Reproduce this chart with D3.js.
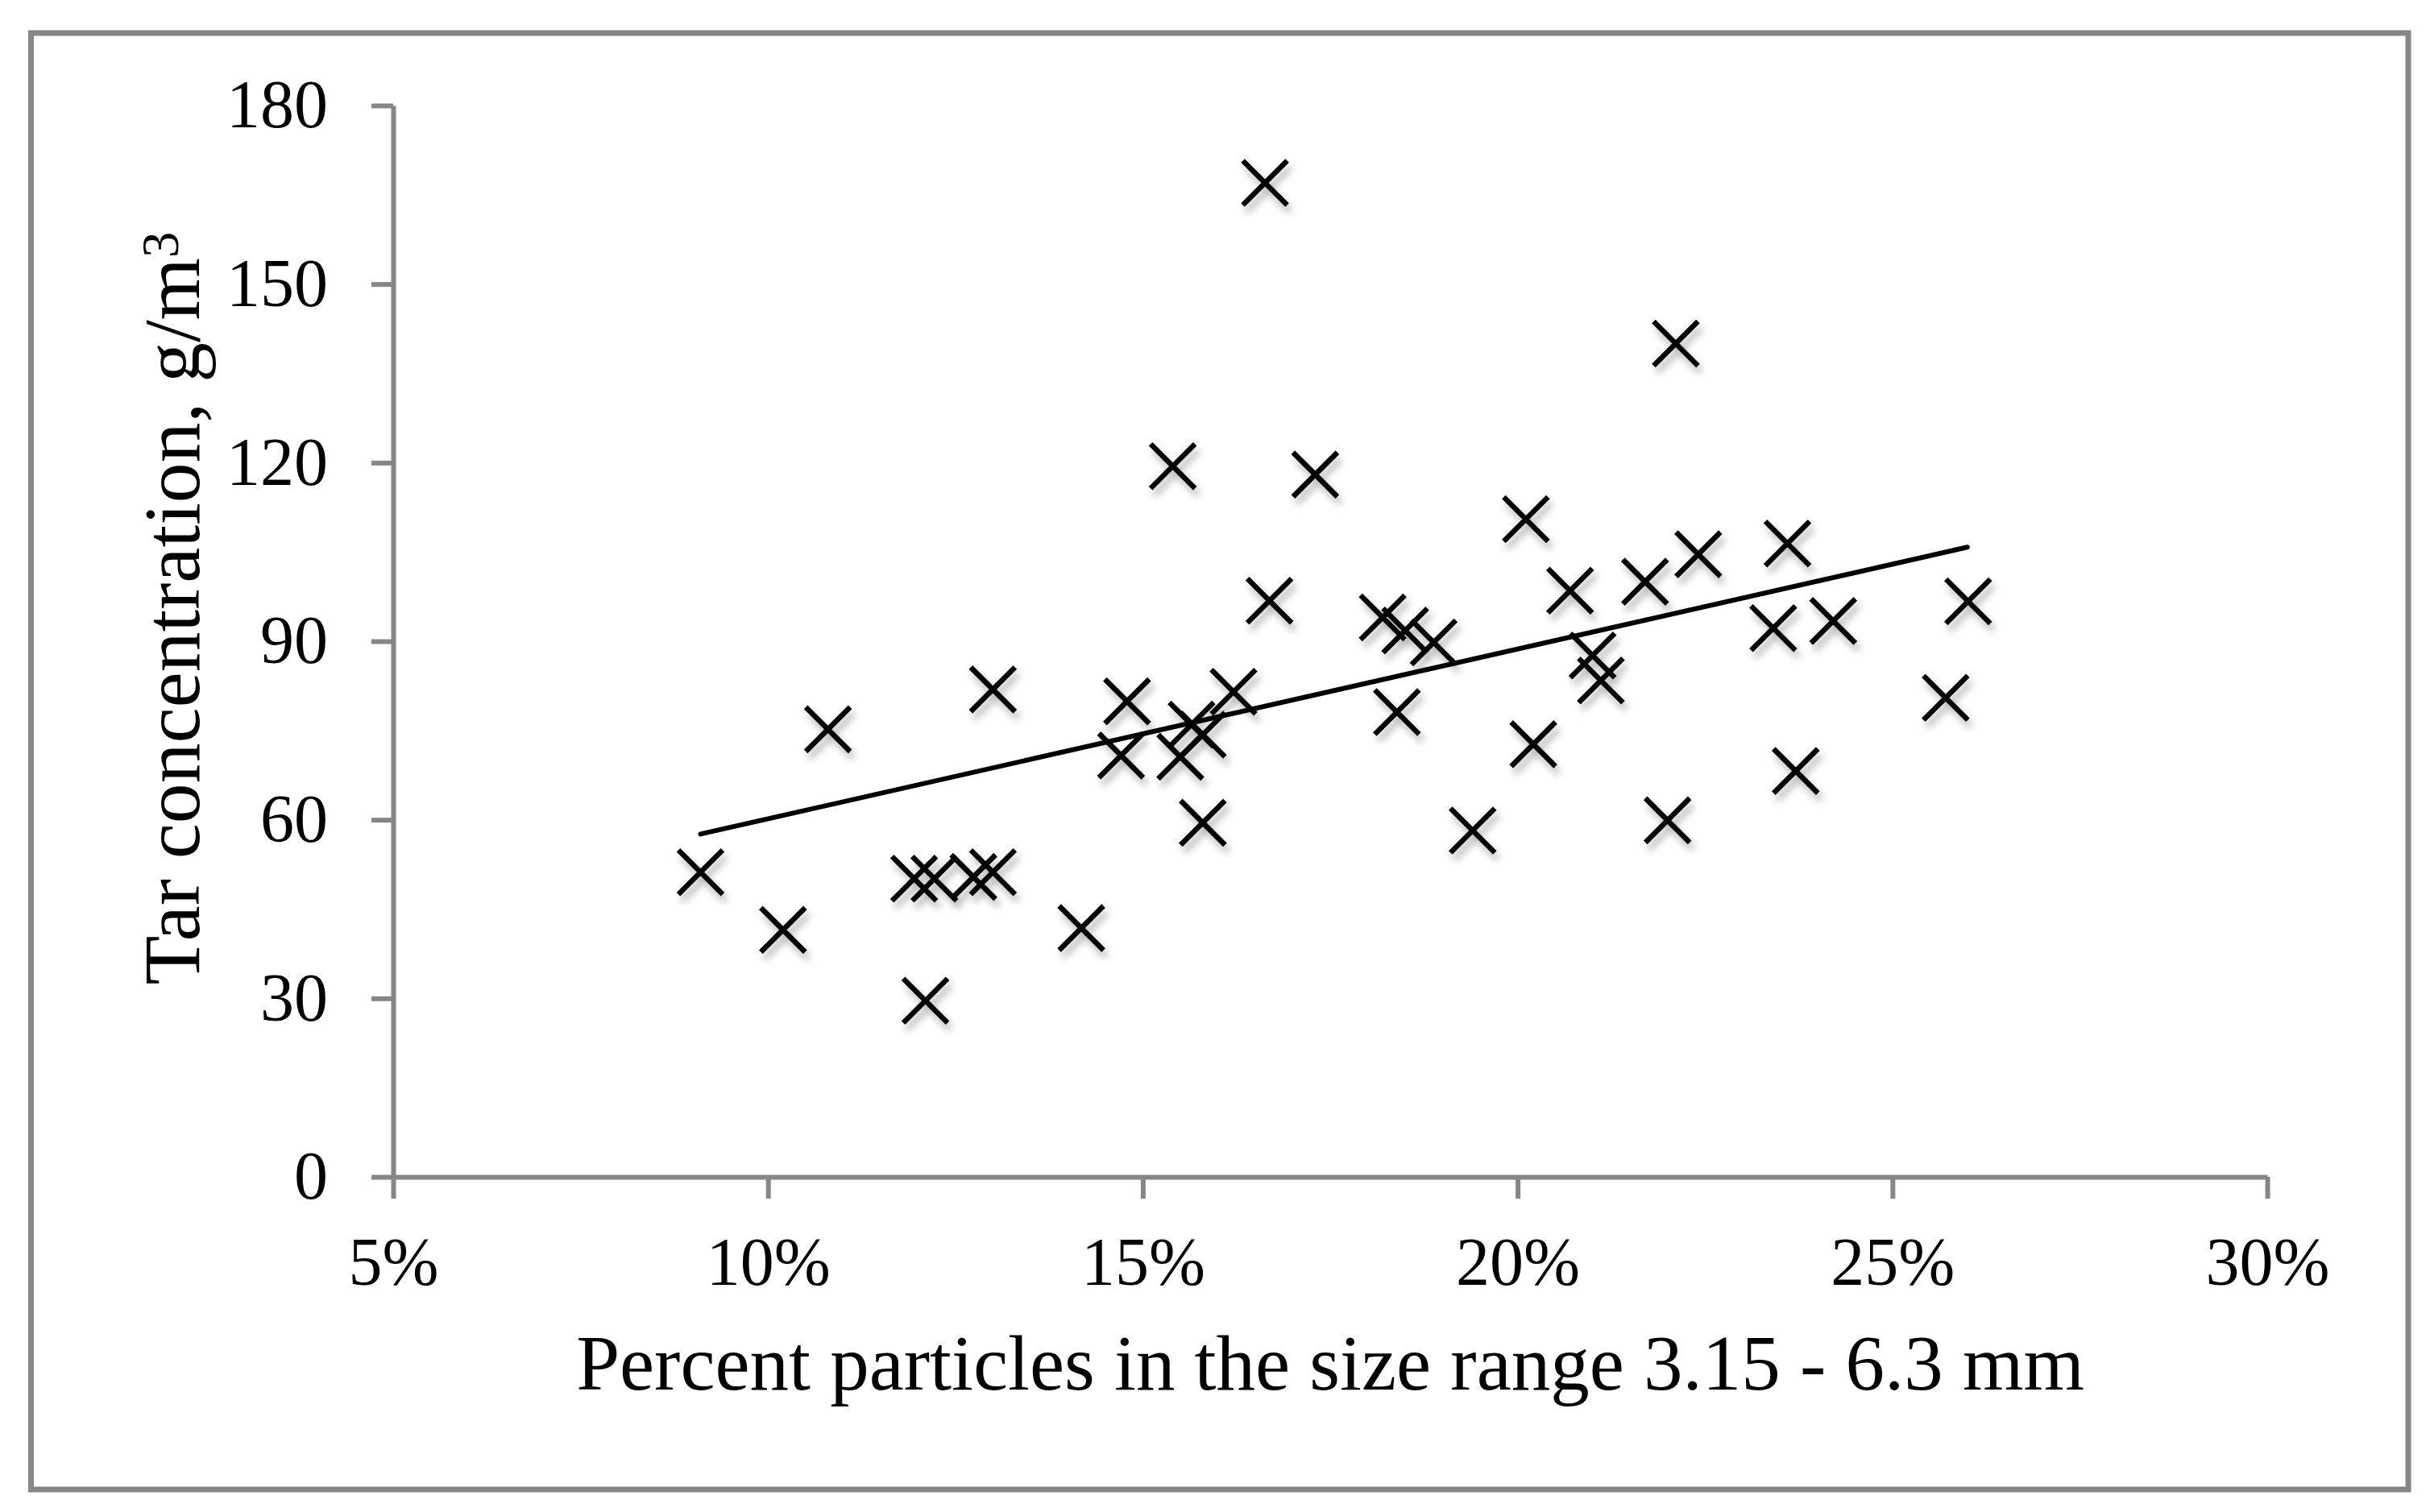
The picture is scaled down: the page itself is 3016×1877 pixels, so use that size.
<!DOCTYPE html>
<html>
<head>
<meta charset="utf-8">
<script src="https://cdn.jsdelivr.net/npm/d3@7"></script>
<style>
  body { margin: 0; background: #fff; }
  text { font-family: "Liberation Serif", "DejaVu Serif", serif; fill: #000; }
</style>
</head>
<body>
<script>
// percent particles 3.15 - 6.3 mm (x) and tar concentration g/m3 (y)
var pctParticles = [9.10, 10.2, 10.8, 11.95, 12.22, 12.1, 12.74, 13.0, 13.0, 14.18,
    14.71, 14.79, 15.40, 15.5, 15.65, 15.8, 15.8, 16.21, 16.63, 16.69,
    17.3, 18.2, 18.5, 18.39, 18.88, 19.4, 20.11, 20.21, 20.7, 21.0,
    21.11, 21.7, 22.0, 22.11, 22.41, 23.41, 23.6, 23.71, 24.21, 25.71, 26.01];
var tarConc = [51.2, 41.5, 75.2, 50.1, 50.1, 29.6, 50.4, 51.2, 81.9, 41.8,
    70.8, 79.9, 119.4, 70.6, 76.0, 74.3, 59.5, 81.5, 167.0, 96.8,
    118.0, 94.0, 91.8, 78.1, 89.8, 58.2, 110.5, 72.7, 98.5, 87.6,
    83.4, 100.0, 59.9, 140.0, 104.6, 92.2, 106.4, 68.2, 93.4, 80.5, 96.7];

// linear trendline endpoints as drawn in the picture
var trendX = [9.1, 26.0];
var trendY = [57.6, 105.8];

var xTicks = [5, 10, 15, 20, 25, 30];
var yTicks = [0, 30, 60, 90, 120, 150, 180];

var W = 3016, H = 1877;
var axisGrey = "#868686";

var svg = d3.select("body").append("svg")
    .attr("width", W)
    .attr("height", H);

// outer chart frame
svg.append("rect")
    .attr("x", 38.5).attr("y", 41)
    .attr("width", 2989 - 38.5).attr("height", 1849 - 41)
    .attr("fill", "#fff")
    .attr("stroke", axisGrey)
    .attr("stroke-width", 7);

var defs = svg.append("defs");
var shadow = defs.append("filter").attr("id", "shadow")
    .attr("x", "-50%").attr("y", "-50%").attr("width", "200%").attr("height", "200%");
shadow.append("feDropShadow")
    .attr("dx", 4).attr("dy", 8)
    .attr("stdDeviation", 5)
    .attr("flood-color", "#000")
    .attr("flood-opacity", 0.3);

var x = d3.scaleLinear().domain([5, 30]).range([488, 2814]);
var y = d3.scaleLinear().domain([0, 180]).range([1461, 131]);

var xAxis = svg.append("g")
    .attr("transform", "translate(0," + y(0) + ")")
    .call(d3.axisBottom(x).tickValues(xTicks).tickSize(27).tickSizeOuter(0).tickPadding(47)
        .tickFormat(function(d) { return d + "%"; }));

var yAxis = svg.append("g")
    .attr("transform", "translate(" + x(5) + ",0)")
    .call(d3.axisLeft(y).tickValues(yTicks).tickSize(27).tickSizeOuter(0).tickPadding(54));

[xAxis, yAxis].forEach(function(g) {
    g.select(".domain").attr("stroke", axisGrey).attr("stroke-width", 6);
    g.selectAll(".tick line").attr("stroke", axisGrey).attr("stroke-width", 6);
    g.selectAll(".tick text")
        .attr("font-size", 84)
        .attr("font-family", "Liberation Serif, DejaVu Serif, serif")
        .attr("fill", "#000");
});

// X markers
var s = 27.5;
var pts = pctParticles.map(function(d, i) { return [d, tarConc[i]]; });
svg.append("g")
    .attr("filter", "url(#shadow)")
    .selectAll("path")
    .data(pts)
    .enter()
    .append("path")
    .attr("d", function(d) {
        var cx = x(d[0]), cy = y(d[1]);
        return "M" + (cx - s) + "," + (cy - s) + "L" + (cx + s) + "," + (cy + s) +
               "M" + (cx - s) + "," + (cy + s) + "L" + (cx + s) + "," + (cy - s);
    })
    .attr("stroke", "#000")
    .attr("stroke-width", 6.5)
    .attr("fill", "none");

// trendline
svg.append("path")
    .datum(trendX.map(function(d, i) { return [d, trendY[i]]; }))
    .attr("d", d3.line().x(function(d) { return x(d[0]); }).y(function(d) { return y(d[1]); }))
    .attr("stroke", "#000")
    .attr("stroke-width", 6)
    .attr("stroke-linecap", "round")
    .attr("fill", "none");

// fit a text element to a target width
function fitText(t, target, fs) {
    t.attr("font-size", fs);
    var len = t.node().getComputedTextLength();
    if (len > 0) t.attr("font-size", fs * target / len);
}

var xTitle = svg.append("text")
    .attr("x", 1651).attr("y", 1725)
    .attr("text-anchor", "middle")
    .text("Percent particles in the size range 3.15 - 6.3 mm");
fitText(xTitle, 1872, 94);

var yTitle = svg.append("text")
    .attr("transform", "translate(247,755) rotate(-90)")
    .attr("text-anchor", "middle");
yTitle.append("tspan").text("Tar concentration, g/m");
yTitle.append("tspan").attr("dy", "-0.4em").attr("font-size", "0.65em").text("3");
fitText(yTitle, 935, 92);
</script>
</body>
</html>
